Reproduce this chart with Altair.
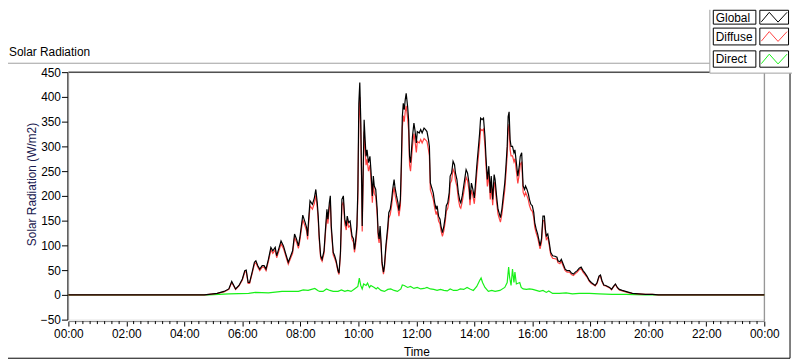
import altair as alt
import pandas as pd

# ---- data (minutes since midnight, W/m2) ----
t_global = [0, 281, 291, 308, 322, 332, 338, 346, 353, 360,
            365, 368, 372, 375, 380, 385, 388, 392, 396, 401,
            405, 409, 414, 419, 423, 428, 431, 435, 440, 445,
            450, 455, 459, 464, 468, 472, 476, 479, 485, 490,
            493, 495, 497, 500, 505, 509, 512, 515, 517, 519,
            522, 525, 529, 532, 535, 537, 540, 542, 544, 548,
            551, 554, 558, 560, 563, 566, 569, 572, 575, 577,
            580, 583, 587, 590, 592, 594, 597, 599, 601, 603,
            605, 607, 608, 610, 612, 614, 616, 618, 621, 624,
            626, 629, 631, 633, 636, 639, 641, 643, 645, 647,
            649, 652, 654, 657, 661, 663, 666, 669, 671, 674,
            676, 679, 682, 684, 687, 689, 691, 693, 695, 697,
            699, 702, 704, 706, 708, 710, 712, 715, 717, 720,
            722, 726, 729, 732, 736, 739, 742, 745, 747, 749,
            752, 755, 758, 761, 763, 766, 769, 771, 774, 777,
            780, 782, 785, 788, 790, 793, 796, 799, 801, 804,
            807, 810, 812, 815, 818, 821, 823, 826, 829, 831,
            834, 837, 840, 842, 845, 848, 851, 853, 856, 859,
            862, 864, 867, 870, 873, 875, 878, 881, 883, 886,
            889, 892, 894, 897, 900, 903, 905, 908, 910, 912,
            914, 916, 919, 922, 924, 927, 930, 933, 935, 938,
            941, 944, 946, 949, 952, 954, 957, 960, 963, 965,
            968, 971, 974, 976, 979, 982, 985, 987, 989, 992,
            995, 998, 1002, 1007, 1011, 1013, 1017, 1020, 1024, 1028,
            1032, 1037, 1041, 1045, 1049, 1053, 1057, 1061, 1065, 1069,
            1073, 1078, 1082, 1086, 1090, 1094, 1098, 1101, 1104, 1108,
            1112, 1116, 1120, 1124, 1128, 1132, 1136, 1140, 1146, 1153,
            1160, 1167, 1180, 1194, 1208, 1221, 1440]

global_vals = [0, 0, 1, 3, 7, 12, 27, 12, 19, 32,
               49, 50, 25, 25, 45, 66, 69, 59, 52, 59,
               59, 52, 72, 96, 89, 96, 79, 92, 109, 99,
               82, 66, 76, 89, 123, 113, 99, 116, 161, 146,
               136, 119, 150, 190, 183, 196, 213, 186, 159, 119,
               79, 72, 89, 133, 173, 153, 186, 200, 139, 86,
               79, 69, 49, 44, 86, 193, 200, 153, 139, 159,
               146, 149, 119, 113, 92, 106, 139, 213, 387, 429,
               354, 220, 139, 253, 354, 314, 280, 293, 267, 280,
               253, 200, 240, 220, 213, 173, 126, 113, 139, 106,
               66, 46, 59, 99, 139, 166, 173, 193, 213, 233,
               216, 200, 186, 170, 193, 267, 360, 387, 374, 394,
               407, 380, 354, 280, 267, 293, 320, 347, 334, 307,
               330, 327, 334, 327, 337, 334, 330, 314, 300, 226,
               216, 206, 186, 173, 180, 159, 153, 139, 126, 139,
               159, 180, 186, 206, 240, 246, 270, 263, 246, 233,
               206, 190, 186, 200, 220, 240, 253, 246, 226, 193,
               226, 213, 196, 220, 260, 293, 327, 357, 354, 357,
               320, 280, 233, 260, 206, 240, 193, 243, 233, 200,
               173, 163, 156, 173, 200, 226, 253, 300, 360, 370,
               314, 300, 300, 287, 293, 267, 240, 260, 280, 287,
               220, 213, 220, 213, 203, 193, 183, 180, 166, 146,
               133, 123, 109, 99, 113, 159, 159, 133, 119, 123,
               106, 86, 79, 78, 76, 69, 67, 72, 62, 52,
               49, 49, 44, 42, 46, 49, 54, 56, 49, 44,
               38, 29, 25, 22, 19, 25, 38, 40, 29, 20,
               19, 17, 15, 11, 17, 22, 15, 11, 9, 7,
               5, 3, 2, 1, 1, 0, 0]

diffuse_vals = [0, 0, 1, 3, 6, 11, 25, 11, 18, 30,
                46, 47, 23, 23, 42, 62, 65, 56, 49, 56,
                56, 49, 68, 91, 84, 91, 75, 87, 103, 94,
                78, 62, 72, 84, 116, 107, 94, 110, 152, 138,
                129, 112, 141, 180, 173, 185, 201, 176, 150, 112,
                74, 68, 84, 125, 163, 144, 176, 189, 131, 81,
                74, 65, 46, 41, 81, 180, 188, 143, 131, 150,
                137, 140, 112, 106, 86, 99, 128, 195, 350, 400,
                332, 205, 128, 236, 330, 295, 262, 274, 250, 262,
                236, 186, 224, 205, 199, 161, 117, 105, 130, 99,
                61, 42, 54, 92, 130, 155, 162, 181, 200, 218,
                202, 187, 174, 159, 180, 250, 338, 362, 350, 370,
                382, 357, 332, 262, 250, 274, 300, 326, 313, 288,
                310, 307, 314, 307, 316, 313, 310, 294, 281, 212,
                203, 193, 175, 162, 169, 149, 143, 130, 118, 130,
                149, 169, 175, 193, 225, 231, 254, 247, 231, 219,
                193, 178, 175, 188, 206, 225, 238, 231, 212, 181,
                212, 200, 184, 206, 244, 275, 307, 335, 332, 335,
                301, 263, 219, 244, 193, 225, 181, 228, 219, 188,
                163, 153, 147, 163, 188, 212, 238, 282, 335, 345,
                294, 281, 281, 269, 275, 250, 225, 244, 263, 269,
                207, 200, 207, 200, 191, 181, 172, 169, 156, 137,
                125, 116, 102, 93, 106, 150, 150, 125, 112, 116,
                100, 81, 74, 73, 72, 65, 63, 68, 58, 49,
                46, 46, 41, 39, 43, 46, 51, 53, 46, 41,
                36, 27, 23, 21, 18, 23, 36, 38, 27, 19,
                18, 16, 14, 10, 16, 21, 14, 10, 8, 6,
                4, 3, 2, 1, 1, 0, 0]

t_direct = [0, 291, 332, 373, 387, 414, 442, 455, 476, 486,
            496, 503, 510, 516, 520, 527, 534, 541, 548, 558,
            565, 572, 578, 585, 592, 599, 602, 605, 608, 611,
            616, 619, 623, 626, 633, 637, 640, 647, 654, 661,
            667, 674, 681, 688, 691, 695, 702, 708, 715, 722,
            729, 736, 742, 749, 756, 763, 770, 777, 784, 790,
            797, 804, 811, 818, 825, 831, 838, 845, 851, 854,
            857, 862, 869, 876, 883, 893, 903, 908, 911, 913,
            916, 919, 922, 924, 927, 934, 937, 941, 948, 954,
            961, 968, 975, 982, 989, 994, 1002, 1016, 1030, 1043,
            1057, 1078, 1098, 1125, 1153, 1194, 1440]

direct_vals = [0, 0, 2, 3, 5, 4, 7, 7, 7, 10,
               9, 11, 13, 9, 7, 7, 12, 9, 7, 7,
               10, 7, 9, 7, 12, 17, 34, 19, 12, 22,
               19, 24, 15, 19, 15, 12, 15, 9, 7, 11,
               12, 9, 7, 12, 20, 19, 15, 17, 13, 15,
               12, 13, 15, 12, 11, 9, 11, 9, 8, 12,
               9, 9, 12, 11, 15, 12, 9, 17, 29, 34,
               25, 15, 7, 9, 7, 9, 15, 25, 56, 36,
               19, 52, 25, 46, 22, 25, 15, 12, 11, 12,
               11, 9, 7, 9, 5, 8, 3, 3, 4, 2,
               3, 3, 2, 1, 1, 0, 0]

series_names = ["Global", "Diffuse", "Direct"]
series_colors = ["#000000", "#ff4040", "#18f018"]

major_ticks = list(range(0, 1441, 120))
minor_ticks = [m for m in range(0, 1441, 15) if m % 120]
y_ticks = list(range(-50, 451, 50))

FONT = "Liberation Sans"
W, H = 703, 250

xscale = alt.Scale(domain=[0, 1440], nice=False, zero=False)
yscale = alt.Scale(domain=[-50, 450], nice=False, zero=False)

xaxis = alt.Axis(values=major_ticks, labelExpr="(floor(datum.value/60)%24 < 10 ? '0' : '') + (floor(datum.value/60)%24) + ':00'",
                 tickSize=5, tickColor="#000", domainColor="#808080", offset=1.5,
                 labelFont=FONT, labelFontSize=12, labelColor="#000", labelPadding=3,
                 labelOverlap=False, labelFlush=False, labelBaseline="top",
                 title="Time", titleFont=FONT, titleFontSize=12, titleFontWeight="normal",
                 titleColor="#000", titleY=34.5, titleBaseline="alphabetic", grid=False)
yaxis = alt.Axis(values=y_ticks, tickSize=6, tickColor="#000", domainColor="#000", offset=1,
                 labelFont=FONT, labelFontSize=12, labelColor="#000", labelPadding=1,
                 labelFlush=False,
                 title="Solar Radiation (W/m2)", titleFont=FONT, titleFontSize=12,
                 titleFontWeight="normal", titleColor="#1a1a50", titleAngle=270,
                 titleX=-36, titleY=113, titleAlign="center", titleBaseline="middle", grid=False)


def line_layer(t, v, color):
    df = pd.DataFrame({"t": t, "v": v})
    return alt.Chart(df).mark_line(color=color, strokeWidth=1.2, interpolate="linear").encode(
        x=alt.X("t:Q", scale=xscale, axis=xaxis),
        y=alt.Y("v:Q", scale=yscale, axis=yaxis),
    )


one = pd.DataFrame({"a": [0]})


def hrule(y, x0, x1, color):
    return alt.Chart(one).mark_rule(color=color, strokeWidth=1).encode(
        x=alt.value(x0), x2=alt.value(x1), y=alt.value(y))


def vrule(x, y0, y1, color):
    return alt.Chart(one).mark_rule(color=color, strokeWidth=1).encode(
        x=alt.value(x), y=alt.value(y0), y2=alt.value(y1))


layers = []
# plot frame (top dark, right gray)
layers.append(hrule(0, 0, W, "#000"))
layers.append(vrule(W, 0, H + 1.5, "#808080"))

# data lines (Global drawn last, on top)
layers.append(line_layer(t_direct, direct_vals, series_colors[2]))
layers.append(line_layer(t_global, diffuse_vals, series_colors[1]))
layers.append(line_layer(t_global, global_vals, series_colors[0]))

# minor x ticks
minor_df = pd.DataFrame({"m": minor_ticks})
layers.append(alt.Chart(minor_df).mark_rule(color="#000", strokeWidth=1).encode(
    x=alt.X("m:Q", scale=xscale, axis=xaxis), y=alt.value(H + 1.5), y2=alt.value(H + 4.5)))

# outer chart frame
layers.append(hrule(-9, -61, 648, "#a0a0a0"))
layers.append(hrule(289, -61, 729, "#000"))
layers.append(vrule(729, 1, 289, "#000"))

# chart caption
layers.append(alt.Chart(one).mark_text(text="Solar Radiation", align="left", baseline="alphabetic",
                                        font=FONT, fontSize=12, color="#000").encode(
    x=alt.value(-60), y=alt.value(-16)))

# legend panel
layers.append(alt.Chart(one).mark_rect(fill="#ffffff", strokeWidth=0).encode(
    x=alt.value(648), x2=alt.value(731), y=alt.value(-63), y2=alt.value(1)))
layers.append(vrule(648, -63, 1, "#a0a0a0"))
layers.append(hrule(1, 648, 731, "#a0a0a0"))

legend_boxes = [(-62.5, -48.5), (-44.5, -27.5), (-21.5, -5)]
zigzag = "M-1,0.36L-0.38,-0.38L0.3,0.38L1,-0.38"
for name, color, (y0, y1) in zip(series_names, series_colors, legend_boxes):
    layers.append(alt.Chart(one).mark_rect(fill="#ffffff", stroke="#000", strokeWidth=1).encode(
        x=alt.value(651.5), x2=alt.value(694.5), y=alt.value(y0), y2=alt.value(y1)))
    layers.append(alt.Chart(one).mark_rect(fill="#ffffff", stroke="#000", strokeWidth=1).encode(
        x=alt.value(698.5), x2=alt.value(727.5), y=alt.value(y0), y2=alt.value(y1)))
    layers.append(alt.Chart(one).mark_text(text=name, align="left", baseline="middle",
                                            font=FONT, fontSize=12, color="#000").encode(
        x=alt.value(654), y=alt.value((y0 + y1) / 2 + 0.5)))
    layers.append(alt.Chart(one).mark_point(shape=zigzag, filled=False, color=color, strokeWidth=1,
                                             opacity=1, size=676).encode(
        x=alt.value(713), y=alt.value((y0 + y1) / 2)))

chart = alt.layer(*layers).properties(
    width=W, height=H,
    autosize=alt.AutoSizeParams(type="none"),
    padding={"left": 61, "top": 63, "right": 28, "bottom": 40},
).configure_view(stroke=None).configure(background="#ffffff")

chart.save("out.html", embed_options={"renderer": "svg", "actions": False})
